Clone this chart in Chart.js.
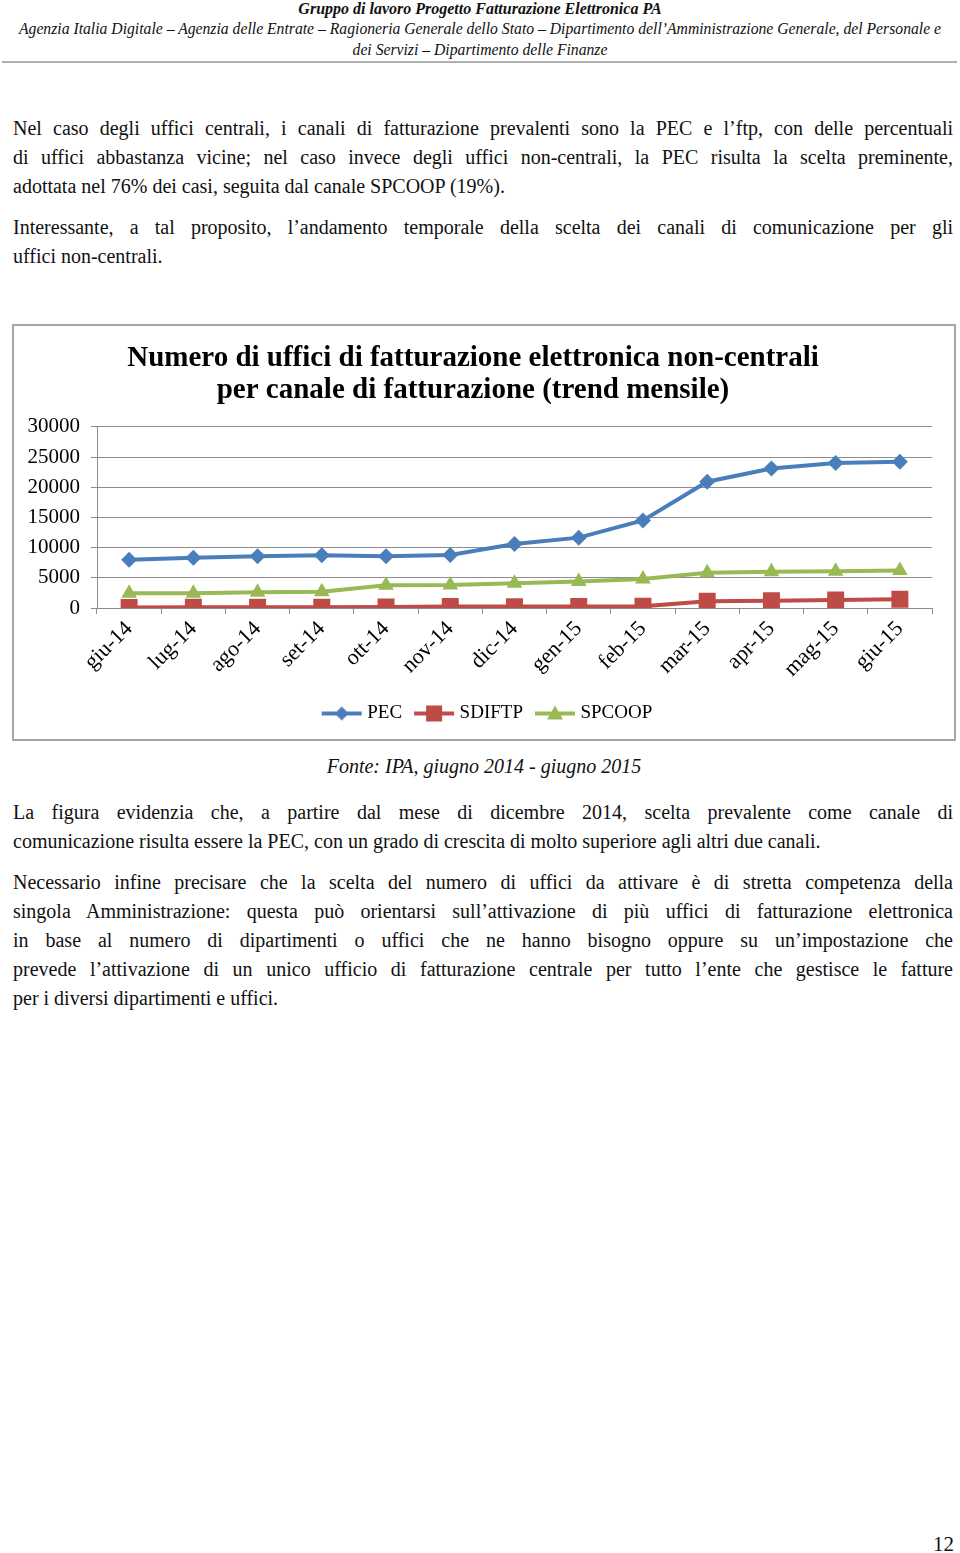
<!DOCTYPE html>
<html lang="it">
<head>
<meta charset="utf-8">
<title>Canali di fatturazione</title>
<script src="https://cdn.jsdelivr.net/npm/chart.js@4/dist/chart.umd.min.js"></script>
<style>
    html, body { margin: 0; padding: 0; background: #fff; }
    body { width: 960px; height: 1553px; position: relative; overflow: hidden;
           font-family: 'Liberation Serif', 'Times New Roman', serif; color: #111; }
    .hd { position: absolute; left: 0; width: 960px; text-align: center;
          font-style: italic; font-size: 15.7px; line-height: 21px; white-space: nowrap; }
    .rule { position: absolute; left: 2px; top: 61px; width: 955px; height: 2px; background: #b0b0b0; }
    .ln { position: absolute; left: 13px; width: 940px; font-size: 20px; line-height: 29px;
          white-space: nowrap; }
    .j { text-align: justify; text-align-last: justify; }
    .box { position: absolute; left: 12px; top: 324px; width: 944px; height: 417px;
           border: 2px solid #a6a6a6; box-sizing: border-box; }
    .cap { position: absolute; left: 0; width: 968px; text-align: center; top: 752px;
           font-size: 20px; line-height: 29px; font-style: italic; }
    .pg { position: absolute; right: 6px; top: 1530px; font-size: 21px; line-height: 29px; }
</style>
</head>
<body>
<div class="hd" style="top:-2px;font-weight:bold;font-size:16px;">Gruppo di lavoro Progetto Fatturazione Elettronica PA</div>
<div class="hd" style="top:18px;">Agenzia Italia Digitale – Agenzia delle Entrate – Ragioneria Generale dello Stato – Dipartimento dell’Amministrazione Generale, del Personale e</div>
<div class="hd" style="top:39px;">dei Servizi – Dipartimento delle Finanze</div>
<div class="rule"></div>

<div class="ln j" style="top:114px;">Nel caso degli uffici centrali, i canali di fatturazione prevalenti sono la PEC e l’ftp, con delle percentuali</div>
<div class="ln j" style="top:143px;">di uffici abbastanza vicine; nel caso invece degli uffici non-centrali, la PEC risulta la scelta preminente,</div>
<div class="ln" style="top:172px;">adottata nel 76% dei casi, seguita dal canale SPCOOP (19%).</div>
<div class="ln j" style="top:213px;">Interessante, a tal proposito, l’andamento temporale della scelta dei canali di comunicazione per gli</div>
<div class="ln" style="top:242px;">uffici non-centrali.</div>

<div class="box"><canvas id="trendChart"></canvas></div>

<div class="cap">Fonte: IPA, giugno 2014 - giugno 2015</div>

<div class="ln j" style="top:798px;">La figura evidenzia che, a partire dal mese di dicembre 2014, scelta prevalente come canale di</div>
<div class="ln" style="top:827px;">comunicazione risulta essere la PEC, con un grado di crescita di molto superiore agli altri due canali.</div>
<div class="ln j" style="top:868px;">Necessario infine precisare che la scelta del numero di uffici da attivare è di stretta competenza della</div>
<div class="ln j" style="top:897px;">singola Amministrazione: questa può orientarsi sull’attivazione di più uffici di fatturazione elettronica</div>
<div class="ln j" style="top:926px;">in base al numero di dipartimenti o uffici che ne hanno bisogno oppure su un’impostazione che</div>
<div class="ln j" style="top:955px;">prevede l’attivazione di un unico ufficio di fatturazione centrale per tutto l’ente che gestisce le fatture</div>
<div class="ln" style="top:984px;">per i diversi dipartimenti e uffici.</div>

<div class="pg">12</div>

<script>
var months = ['giu-14', 'lug-14', 'ago-14', 'set-14', 'ott-14', 'nov-14', 'dic-14',
              'gen-15', 'feb-15', 'mar-15', 'apr-15', 'mag-15', 'giu-15'];
var pec = [8000, 8300, 8550, 8720, 8550, 8770, 10600, 11650, 14500, 20900, 23100, 24000, 24200];
var sdiftp = [100, 110, 120, 130, 150, 250, 230, 260, 280, 1100, 1220, 1330, 1440];
var spcoop = [2450, 2450, 2600, 2700, 3750, 3800, 4100, 4400, 4800, 5850, 6000, 6100, 6200];
var seriesNames = ['PEC', 'SDIFTP', 'SPCOOP'];
var yTicks = [0, 5000, 10000, 15000, 20000, 25000, 30000];

document.addEventListener('DOMContentLoaded', function() {
    var serif = "'Liberation Serif', 'Times New Roman', serif";
    var gridColor = '#8c8c8c';
    var colors = ['#4a7ebb', '#be4b48', '#98b954'];
    var styles = ['rectRot', 'rect', 'triangle'];
    var radii = [8, 12, 9];

    // little line+marker pictures for the legend
    function legendIcon(color, style) {
        var c = document.createElement('canvas');
        c.width = 42; c.height = 20;
        var g = c.getContext('2d');
        g.strokeStyle = color;
        g.lineWidth = 4;
        g.beginPath(); g.moveTo(1, 10); g.lineTo(41, 10); g.stroke();
        g.fillStyle = color;
        g.beginPath();
        if (style === 'rectRot') {
            g.moveTo(21, 3); g.lineTo(28, 10); g.lineTo(21, 17); g.lineTo(14, 10);
        } else if (style === 'rect') {
            g.rect(13, 2, 16, 16);
        } else {
            g.moveTo(21, 2); g.lineTo(29, 16); g.lineTo(13, 16);
        }
        g.closePath(); g.fill();
        return c;
    }

    // legend sits centred on the whole box, not on the plot width
    var shiftLegend = {
        id: 'shiftLegend',
        afterLayout: function(chart) {
            if (chart.legend) {
                chart.legend.left += 16;
                chart.legend.right += 16;
            }
        }
    };

    var values = [pec, sdiftp, spcoop];
    var datasets = seriesNames.map(function(name, i) {
        return {
            label: name,
            data: values[i],
            borderColor: colors[i],
            backgroundColor: colors[i],
            borderWidth: 4,
            pointStyle: styles[i],
            pointRadius: radii[i],
            pointBorderWidth: 0,
            tension: 0,
            fill: false
        };
    });

    new Chart(document.getElementById('trendChart'), {
        type: 'line',
        data: { labels: months, datasets: datasets },
        plugins: [shiftLegend],
        options: {
            responsive: true,
            maintainAspectRatio: false,
            animation: false,
            layout: { padding: { left: 0, right: 22, top: 0, bottom: 6 } },
            plugins: {
                title: {
                    display: true,
                    text: ['Numero di uffici di fatturazione elettronica non-centrali',
                           'per canale di fatturazione (trend mensile)'],
                    color: '#000',
                    font: { family: serif, size: 29, weight: 'bold', lineHeight: 1.1 },
                    padding: { top: 17, bottom: 20 }
                },
                legend: {
                    position: 'bottom',
                    labels: {
                        usePointStyle: true,
                        pointStyleWidth: 32,
                        padding: 16,
                        color: '#000',
                        font: { family: serif, size: 19 },
                        generateLabels: function(chart) {
                            return chart.data.datasets.map(function(ds, i) {
                                return {
                                    text: ds.label,
                                    pointStyle: legendIcon(colors[i], styles[i]),
                                    fillStyle: colors[i],
                                    strokeStyle: colors[i],
                                    lineWidth: 0,
                                    fontColor: '#000',
                                    datasetIndex: i
                                };
                            });
                        }
                    }
                },
                tooltip: { enabled: false }
            },
            scales: {
                x: {
                    offset: true,
                    grid: { offset: true, drawOnChartArea: false, tickLength: 6, color: gridColor },
                    border: { color: gridColor },
                    ticks: { minRotation: 45, maxRotation: 45, padding: 2, color: '#000',
                             font: { family: serif, size: 22 } },
                    afterFit: function(scale) { scale.height = 80; }
                },
                y: {
                    min: 0,
                    max: 30000,
                    afterBuildTicks: function(scale) {
                        scale.ticks = yTicks.map(function(v) { return { value: v }; });
                    },
                    grid: { color: gridColor, tickLength: 6 },
                    border: { color: gridColor },
                    ticks: { padding: 11, color: '#000', font: { family: serif, size: 21 },
                             callback: function(v) { return String(v); } },
                    afterFit: function(scale) { scale.width = 83; }
                }
            }
        }
    });
});
</script>
</body>
</html>
